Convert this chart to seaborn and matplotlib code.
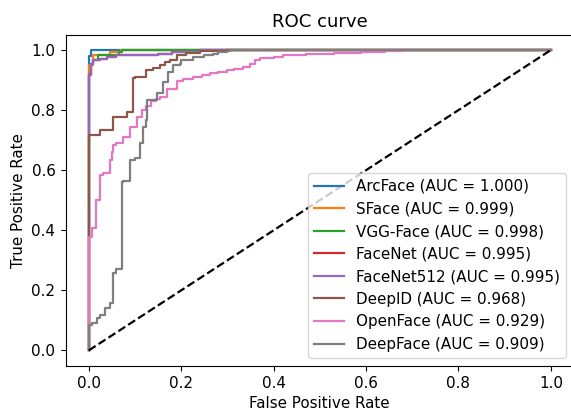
import matplotlib
matplotlib.use("Agg")
import matplotlib.pyplot as plt
import pandas as pd
import seaborn as sns

MODELS = ["ArcFace", "SFace", "VGG-Face", "FaceNet", "FaceNet512", "DeepID", "OpenFace", "DeepFace"]
AUC = [1.000, 0.999, 0.998, 0.995, 0.995, 0.968, 0.929, 0.909]

# ROC corner points
arcface_fpr = [0, 0, 0.005, 0.005, 1]
arcface_tpr = [0, 0.98, 0.98, 1, 1]

sface_fpr = [0, 0, 0.01, 0.01, 0.045, 0.045, 0.07, 0.07, 1]
sface_tpr = [0, 0.95, 0.95, 0.985, 0.985, 0.995, 0.995, 1, 1]

vgg_fpr = [0, 0, 0.004, 0.004, 0.01, 0.01, 0.02, 0.02, 0.06, 0.065, 0.072, 0.072, 1]
vgg_tpr = [0, 0.92, 0.92, 0.955, 0.955, 0.966, 0.966, 0.982, 0.985, 0.994, 0.994, 1, 1]

facenet_fpr = [0, 0, 0.005, 0.005, 0.01, 0.01, 0.025, 0.04, 0.06, 0.1, 0.15, 0.18, 0.18, 0.24, 0.24, 1]
facenet_tpr = [0, 0.917, 0.917, 0.955, 0.955, 0.967, 0.971, 0.977, 0.983, 0.985, 0.988, 0.988, 0.994, 0.994, 1, 1]

facenet512_fpr = [0, 0, 0.005, 0.005, 0.01, 0.01, 0.025, 0.04, 0.06, 0.1, 0.15, 0.18, 0.18, 0.24, 0.24, 1]
facenet512_tpr = [0, 0.917, 0.917, 0.955, 0.955, 0.967, 0.971, 0.977, 0.983, 0.985, 0.988, 0.988, 0.994, 0.994, 1, 1]

deepid_fpr = [0, 0, 0.025, 0.025, 0.052, 0.052, 0.075, 0.083, 0.095, 0.095, 0.1, 0.117, 0.125, 0.14,
              0.155, 0.165, 0.175, 0.19, 0.21, 0.24, 0.27, 0.3, 1]
deepid_tpr = [0, 0.717, 0.72, 0.734, 0.734, 0.778, 0.778, 0.795, 0.807, 0.907, 0.91, 0.911, 0.933, 0.94,
              0.949, 0.96, 0.967, 0.983, 0.99, 0.996, 0.998, 1, 1]

openface_fpr = [0, 0, 0.007, 0.007, 0.015, 0.015, 0.02, 0.025, 0.025, 0.03, 0.045, 0.045, 0.05, 0.052,
                0.06, 0.074, 0.09, 0.105, 0.115, 0.125, 0.135, 0.145, 0.155, 0.17, 0.19, 0.205, 0.226,
                0.245, 0.262, 0.28, 0.299, 0.315, 0.334, 0.349, 0.36, 0.37, 0.4, 0.42, 0.44, 0.47, 0.53,
                0.59, 0.64, 0.68, 1]
openface_tpr = [0, 0.379, 0.379, 0.408, 0.408, 0.5, 0.5, 0.53, 0.584, 0.59, 0.6, 0.634, 0.66, 0.684,
                0.69, 0.712, 0.745, 0.778, 0.8, 0.815, 0.83, 0.838, 0.845, 0.87, 0.896, 0.903, 0.91,
                0.916, 0.922, 0.927, 0.932, 0.938, 0.943, 0.955, 0.968, 0.972, 0.977, 0.982, 0.983, 0.988,
                0.991, 0.994, 0.998, 1, 1]

deepface_fpr = [0, 0, 0.007, 0.018, 0.025, 0.035, 0.045, 0.052, 0.052, 0.06, 0.072, 0.072, 0.075, 0.09,
                0.09, 0.1, 0.11, 0.11, 0.115, 0.118, 0.123, 0.126, 0.133, 0.148, 0.161, 0.161, 0.172,
                0.183, 0.198, 0.2, 0.225, 0.25, 0.27, 0.28, 0.3, 0.306, 1]
deepface_tpr = [0, 0.085, 0.09, 0.108, 0.118, 0.14, 0.157, 0.157, 0.257, 0.27, 0.28, 0.562, 0.565, 0.585,
                0.634, 0.64, 0.645, 0.69, 0.69, 0.745, 0.767, 0.834, 0.834, 0.857, 0.867, 0.894, 0.927,
                0.95, 0.955, 0.967, 0.977, 0.983, 0.988, 0.994, 0.998, 1, 1]

FPRS = [arcface_fpr, sface_fpr, vgg_fpr, facenet_fpr, facenet512_fpr, deepid_fpr, openface_fpr, deepface_fpr]
TPRS = [arcface_tpr, sface_tpr, vgg_tpr, facenet_tpr, facenet512_tpr, deepid_tpr, openface_tpr, deepface_tpr]


def main():
    plt.rcParams["font.size"] = 10.9
    plt.rcParams["xtick.major.size"] = 3.8
    plt.rcParams["ytick.major.size"] = 3.8

    rows = []
    labels = []
    for name, auc, fpr, tpr in zip(MODELS, AUC, FPRS, TPRS):
        label = f"{name} (AUC = {auc:.3f})"
        labels.append(label)
        for i, (f, t) in enumerate(zip(fpr, tpr)):
            rows.append({"label": label, "fpr": f, "tpr": t, "step": i})
    df = pd.DataFrame(rows)

    fig = plt.figure(figsize=(5.71, 4.12), dpi=100)
    ax = fig.add_axes([65.6 / 571, 46.5 / 412, 508.4 / 571, 330.5 / 412])

    sns.lineplot(data=df, x="fpr", y="tpr", hue="label", hue_order=labels,
                 palette=sns.color_palette("tab10", len(labels)),
                 sort=False, estimator=None, units="label", linewidth=1.6,
                 drawstyle="steps-post", ax=ax)
    ax.plot([0, 1], [0, 1], "k--", linewidth=1.6)

    ax.set_xlim(-0.05, 1.05)
    ax.set_ylim(-0.05, 1.05)
    ax.set_xlabel("False Positive Rate")
    ax.set_ylabel("True Positive Rate")
    ax.set_title("ROC curve")
    ax.legend(loc="lower right")

    fig.savefig("out.png", dpi=100)
    plt.close(fig)


if __name__ == "__main__":
    main()
